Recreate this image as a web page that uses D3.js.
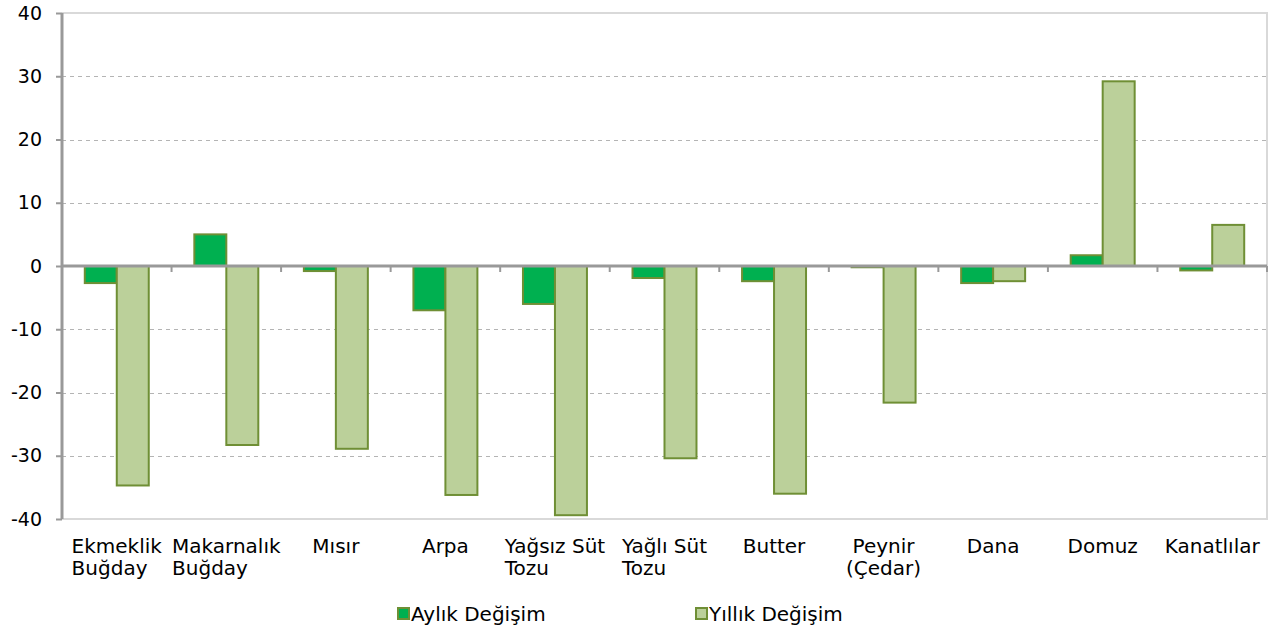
<!DOCTYPE html>
<html>
<head>
<meta charset="utf-8">
<script src="https://cdn.jsdelivr.net/npm/d3@7"></script>
<style>
  body { margin: 0; background: #fff; }
  text { font-family: "DejaVu Sans", Verdana, sans-serif; fill: #000; }
</style>
</head>
<body>
<div id="chart"></div>
<script>
// data
var categories = [
  ["Ekmeklik", "Buğday"], ["Makarnalık", "Buğday"], ["Mısır"], ["Arpa"],
  ["Yağsız Süt", "Tozu"], ["Yağlı Süt", "Tozu"], ["Butter"], ["Peynir", "(Çedar)"],
  ["Dana"], ["Domuz"], ["Kanatlılar"]
];
var monthly = [-2.7, 5.0, -0.8, -7.0, -6.0, -1.9, -2.4, -0.2, -2.7, 1.7, -0.7];
var yearly = [-34.7, -28.3, -28.9, -36.2, -39.4, -30.4, -36.0, -21.6, -2.4, 29.2, 6.5];
var seriesNames = ["Aylık Değişim", "Yıllık Değişim"];
var yTicks = [40, 30, 20, 10, 0, -10, -20, -30, -40];

(function () {
  var width = 1282, height = 633;
  var mLeft = 62, mRight = 1267, mTop = 13, mBottom = 519;
  var fills = ["#00b050", "#bbd09a"];
  var stroke = "#6f8f35";
  var fontSize = "20px";

  var svg = d3.select("#chart").append("svg")
    .attr("width", width)
    .attr("height", height);

  var x = d3.scaleBand()
    .domain(d3.range(categories.length))
    .range([mLeft, mRight]);

  var y = d3.scaleLinear()
    .domain([-40, 40])
    .range([mBottom, mTop]);

  var barW = x.bandwidth() * 0.292;

  // grid lines
  svg.append("g").selectAll("line")
    .data(yTicks.filter(function (d) { return d !== 0 && d !== 40 && d !== -40; }))
    .enter().append("line")
    .attr("x1", mLeft).attr("x2", mRight)
    .attr("y1", function (d) { return Math.round(y(d)) + 0.5; })
    .attr("y2", function (d) { return Math.round(y(d)) + 0.5; })
    .attr("stroke", "#b4b4b4")
    .attr("stroke-dasharray", "4,4");

  // plot border (top, right, bottom)
  svg.append("path")
    .attr("d", "M" + mLeft + "," + mTop + "H" + mRight + "V" + mBottom + "H" + mLeft)
    .attr("fill", "none")
    .attr("stroke", "#d9d9d9")
    .attr("stroke-width", 2);

  // bars
  [monthly, yearly].forEach(function (vals, s) {
    svg.append("g").selectAll("rect")
      .data(vals)
      .enter().append("rect")
      .attr("x", function (d, i) { return x(i) + x.bandwidth() / 2 - barW + s * barW; })
      .attr("width", barW)
      .attr("y", function (d) { return y(Math.max(0, d)); })
      .attr("height", function (d) { return Math.abs(y(d) - y(0)); })
      .attr("fill", fills[s])
      .attr("stroke", stroke)
      .attr("stroke-width", 2);
  });

  // y axis (plain hyphen minus like the original)
  var yAxis = svg.append("g")
    .attr("transform", "translate(" + mLeft + ",0)")
    .call(d3.axisLeft(y).tickValues(yTicks).tickSize(6).tickPadding(14)
      .tickFormat(function (d) { return String(d); }));
  yAxis.select(".domain").attr("stroke", "#999").attr("stroke-width", 3)
    .attr("d", "M0," + mTop + "V" + mBottom);
  yAxis.selectAll(".tick line").attr("stroke", "#999").attr("stroke-width", 2);
  yAxis.selectAll(".tick text")
    .style("font-family", "'DejaVu Sans', Verdana, sans-serif")
    .style("font-size", "19px")
    .attr("fill", "#000");

  // zero axis with category ticks
  var zero = svg.append("g");
  zero.append("line")
    .attr("x1", mLeft).attr("x2", mRight)
    .attr("y1", y(0)).attr("y2", y(0))
    .attr("stroke", "#999").attr("stroke-width", 3);
  zero.selectAll("line.t")
    .data(d3.range(1, categories.length + 1))
    .enter().append("line")
    .attr("class", "t")
    .attr("x1", function (i) { return x(i - 1) + x.bandwidth(); })
    .attr("x2", function (i) { return x(i - 1) + x.bandwidth(); })
    .attr("y1", y(0)).attr("y2", y(0) + 6)
    .attr("stroke", "#999").attr("stroke-width", 2);

  // category labels
  var labels = svg.append("g").selectAll("text")
    .data(categories)
    .enter().append("text")
    .attr("y", 553)
    .style("font-size", fontSize);
  labels.selectAll("tspan")
    .data(function (d) { return d; })
    .enter().append("tspan")
    .attr("dy", function (d, j) { return j === 0 ? 0 : 22; })
    .text(function (d) { return d; });
  labels.each(function (d, i) {
    var t = d3.select(this);
    var cx = x(i) + x.bandwidth() / 2;
    var spans = t.selectAll("tspan").nodes();
    var widths = spans.map(function (n) { return n.getComputedTextLength(); });
    var maxW = d3.max(widths);
    // lines left-aligned when the first line is the widest, else centred
    var leftAlign = widths[0] === maxW;
    spans.forEach(function (n, j) {
      var xx = leftAlign ? cx - maxW / 2 : cx - widths[j] / 2;
      d3.select(n).attr("x", xx);
    });
  });

  // legend
  var legendX = [397, 695];
  var legend = svg.append("g").selectAll("g")
    .data(seriesNames)
    .enter().append("g")
    .attr("transform", function (d, i) { return "translate(" + legendX[i] + ",607)"; });
  legend.append("rect")
    .attr("x", 1).attr("y", 1)
    .attr("width", 11).attr("height", 11)
    .attr("fill", function (d, i) { return fills[i]; })
    .attr("stroke", stroke)
    .attr("stroke-width", 2);
  legend.append("text")
    .attr("x", 14).attr("y", 14)
    .style("font-size", fontSize)
    .text(function (d) { return d; });
})();
</script>
</body>
</html>
